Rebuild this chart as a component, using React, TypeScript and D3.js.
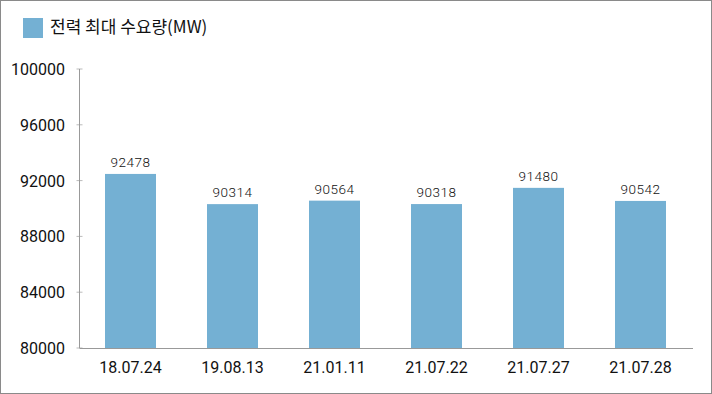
import React from "react";
import * as d3 from "d3";

const categories = ["18.07.24", "19.08.13", "21.01.11", "21.07.22", "21.07.27", "21.07.28"];
const values = [92478, 90314, 90564, 90318, 91480, 90542];
const yTicks = [80000, 84000, 88000, 92000, 96000, 100000];
const legendLabel = "전력 최대 수요량(MW)";

export default function App() {
  const W = 712, H = 394;
  const left = 79.5, right = 691.5, top = 69, bottom = 348;
  const x = d3.scaleBand<string>().domain(categories).range([left, right]).paddingInner(0.5).paddingOuter(0.25);
  const y = d3.scaleLinear().domain([80000, 100000]).range([bottom, top]);
  const color = "#74b0d3";
  const numFont = "Roboto, 'Liberation Sans', sans-serif";
  return (
    <svg width={W} height={H} style={{ position: "absolute", left: 0, top: 0 }}>
      <rect x={0.5} y={0.5} width={W - 1} height={H - 1} fill="#fff" stroke="#8a8a8a" />
      <rect x={23} y={18} width={20} height={20} fill={color} />
      <text x={50} y={33} fontSize={17} fontFamily="'Noto Sans CJK KR', sans-serif" fill="#111">{legendLabel}</text>
      {yTicks.map((t) => (
        <g key={t}>
          <line x1={left - 3} x2={left + 3} y1={y(t)} y2={y(t)} stroke="#bbb" />
          <text x={65} y={y(t) + 6} textAnchor="end" fontSize={16} fontFamily={numFont} fill="#111">{t}</text>
        </g>
      ))}
      {categories.map((c, i) => (
        <g key={c}>
          <rect x={x(c)} y={y(values[i])} width={x.bandwidth()} height={bottom - y(values[i])} fill={color} />
          <text x={x(c)! + x.bandwidth() / 2} y={y(values[i]) - 7} textAnchor="middle" fontSize={13.5} fontWeight={300} letterSpacing={0.5} fontFamily={numFont} fill="#111">{values[i]}</text>
          <text x={x(c)! + x.bandwidth() / 2} y={373} textAnchor="middle" fontSize={16} fontFamily={numFont} fill="#111">{c}</text>
        </g>
      ))}
      <line x1={left} x2={left} y1={top} y2={bottom} stroke="#999" />
      <line x1={left} x2={693} y1={bottom + 0.5} y2={bottom + 0.5} stroke="#999" />
    </svg>
  );
}
